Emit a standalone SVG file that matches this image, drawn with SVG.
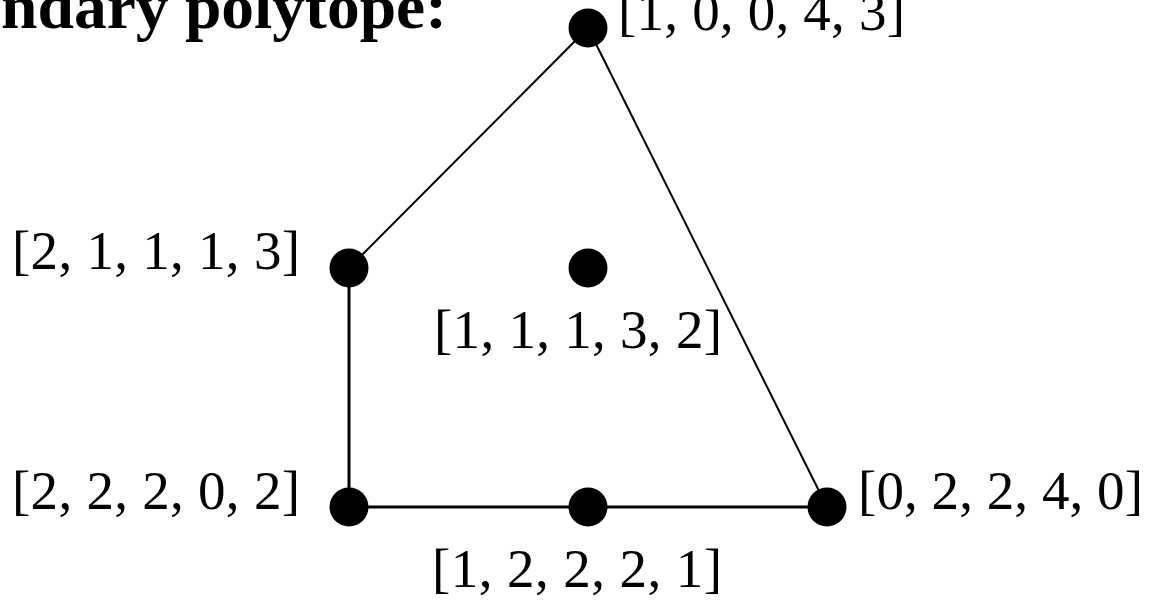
<svg xmlns="http://www.w3.org/2000/svg" width="1152" height="603" viewBox="0 0 1152 603">
<style>
.lbl{font-family:"Liberation Serif","DejaVu Serif",serif;font-size:55px;fill:#000}
.ttl{font-family:"Liberation Serif","DejaVu Serif",serif;font-size:64px;font-weight:bold;fill:#000}
.dot{fill:#000}
.e{stroke:#000;fill:none}
</style>
<rect width="1152" height="603" fill="#fff"/>
<text class="ttl" x="1" y="28" textLength="446" lengthAdjust="spacingAndGlyphs">ndary polytope:</text>
<g id="connectors">
<line class="e" x1="588" y1="28" x2="349" y2="268" stroke-width="2"/>
<line class="e" x1="349" y1="268" x2="349" y2="507" stroke-width="3"/>
<line class="e" x1="349" y1="507" x2="827" y2="507" stroke-width="3"/>
<line class="e" x1="827" y1="507" x2="588" y2="28" stroke-width="2"/>
</g>
<g id="n1"><circle class="dot" cx="588" cy="28" r="19.5"/><text class="lbl" x="618" y="30" textLength="287">[1, 0, 0, 4, 3]</text></g>
<g id="n2"><circle class="dot" cx="349" cy="268" r="19.5"/><text class="lbl" x="12" y="269" textLength="288">[2, 1, 1, 1, 3]</text></g>
<g id="n3"><circle class="dot" cx="588" cy="268" r="19.5"/><text class="lbl" x="434" y="348" textLength="288">[1, 1, 1, 3, 2]</text></g>
<g id="n4"><circle class="dot" cx="349" cy="507" r="19.5"/><text class="lbl" x="12" y="509" textLength="288">[2, 2, 2, 0, 2]</text></g>
<g id="n5"><circle class="dot" cx="588" cy="507" r="19.5"/><text class="lbl" x="432" y="587" textLength="290">[1, 2, 2, 2, 1]</text></g>
<g id="n6"><circle class="dot" cx="827" cy="507" r="19.5"/><text class="lbl" x="858" y="509" textLength="285">[0, 2, 2, 4, 0]</text></g>
</svg>
